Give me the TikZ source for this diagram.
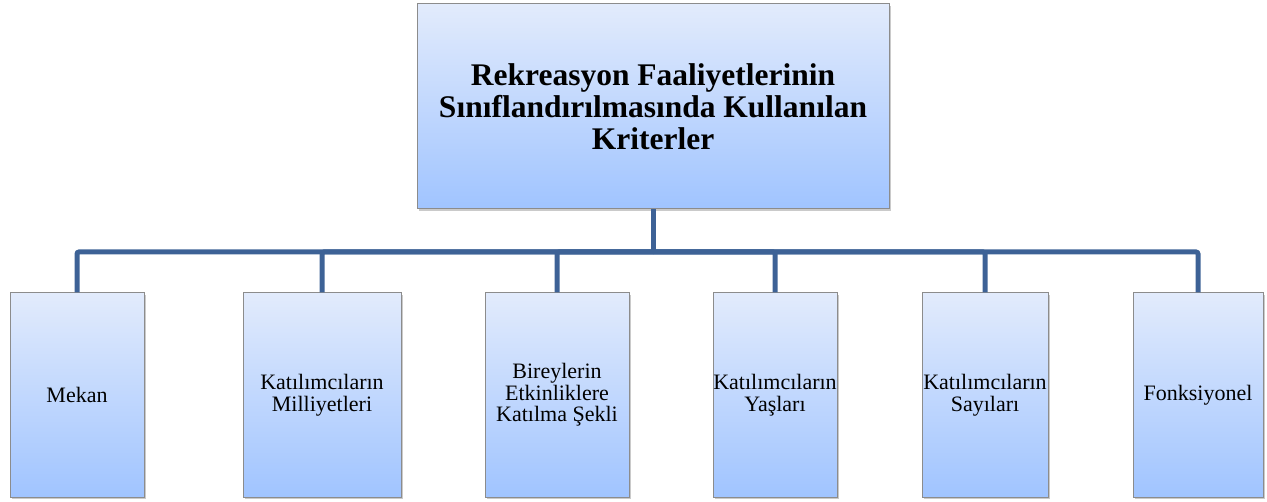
\documentclass[tikz,border=0pt]{standalone}
\usepackage{fontspec}
\setmainfont{LiberationSerif}[Extension=.ttf, UprightFont=*-Regular, BoldFont=*-Bold, ItalicFont=*-Italic, BoldItalicFont=*-BoldItalic]
\usetikzlibrary{shadows}
\definecolor{boxtop}{RGB}{226,235,252}
\definecolor{boxbot}{RGB}{160,196,255}
\definecolor{boxline}{RGB}{140,140,140}
\definecolor{conn}{RGB}{61,98,150}
\tikzset{
  critbox/.style={rectangle, draw=boxline, line width=1pt, top color=boxtop, bottom color=boxbot,
    drop shadow={shadow xshift=1.5pt, shadow yshift=-2pt, opacity=0.35, fill=black!60},
    align=center, inner sep=0pt, text=black},
  titlebox/.style={critbox, minimum width=472pt, minimum height=205pt,
    font=\rmfamily\fontsize{31.5}{32}\selectfont\bfseries},
  childbox/.style={critbox, minimum height=204pt,
    font=\rmfamily\fontsize{22}{21.5}\selectfont},
  link/.style={draw=conn, line width=5pt, rounded corners=2pt}
}
\begin{document}
\begin{tikzpicture}[x=1pt,y=-1pt]
\useasboundingbox (0,0) rectangle (1267,502);
\node[titlebox] (top) at (653,106.5) {Rekreasyon Faaliyetlerinin\\Sınıflandırılmasında Kullanılan\\Kriterler};
\node[childbox, minimum width=134pt] (c1) at (77,395) {Mekan};
\node[childbox, minimum width=158pt] (c2) at (322,395) {Katılımcıların\\Milliyetleri};
\node[childbox, minimum width=144pt] (c3) at (557,395) {Bireylerin\\Etkinliklere\\Katılma Şekli};
\node[childbox, minimum width=124pt] (c4) at (775,395) {Katılımcıların\\Yaşları};
\node[childbox, minimum width=126pt] (c5) at (985,395) {Katılımcıların\\Sayıları};
\node[childbox, minimum width=130pt] (c6) at (1198,395) {Fonksiyonel};
\coordinate (bus) at (653,252);
\path[link] (top.south) -- (bus);
\foreach \c in {c1,c2,c3,c4,c5,c6} {
  \path[link] (bus) -| (\c.north);
}
\end{tikzpicture}
\end{document}
